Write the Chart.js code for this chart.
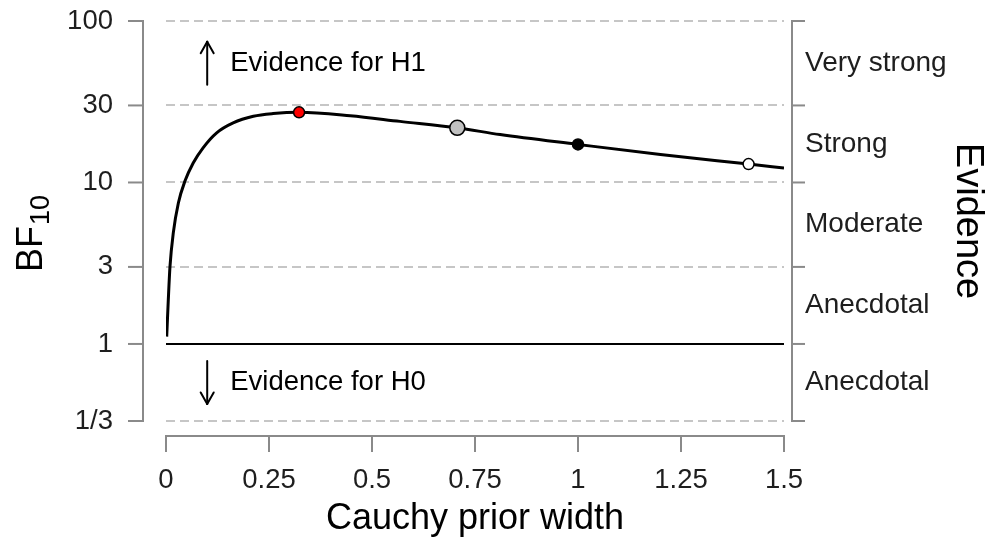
<!DOCTYPE html>
<html><head><meta charset="utf-8">
<script src="https://cdn.jsdelivr.net/npm/chart.js@4/dist/chart.umd.min.js"></script>
<style>html,body{margin:0;padding:0;background:#fff;}#wrap{width:992px;height:544px;}</style>
</head><body><div id="wrap"><canvas id="c" width="992" height="544"></canvas></div>
<script>
// ---- data ----
const priorWidth = [0.0017, 0.0056, 0.0097, 0.0177, 0.030, 0.046, 0.066, 0.090, 0.123, 0.163, 0.212, 0.260, 0.323, 0.447, 0.568, 0.707, 0.811, 1.0, 1.2, 1.414, 1.5];
const bf10 = [1.11, 1.88, 3.02, 4.87, 7.46, 10.2, 13.2, 16.4, 20.3, 23.4, 25.7, 26.7, 27.2, 25.9, 23.9, 21.8, 19.8, 17.2, 14.9, 13.0, 12.3];
const markerWidths = [0.323, 0.707, 1.0, 1.414];
const markerBF = [27.2, 21.8, 17.2, 13.0];
const markerFill = ['#ff0000', '#c0c0c0', '#000000', '#ffffff'];
const markerRadius = [5.5, 7.5, 5.5, 5.5];
const yTickValues = [1/3, 1, 3, 10, 30, 100];
const yTickLabels = ['1/3', '1', '3', '10', '30', '100'];
const xTickValues = [0, 0.25, 0.5, 0.75, 1, 1.25, 1.5];
const xTickLabels = ['0', '0.25', '0.5', '0.75', '1', '1.25', '1.5'];
const evidenceBounds = [100, 30, 10, 3, 1, 1/3];
const evidenceLabels = ['Very strong', 'Strong', 'Moderate', 'Anecdotal', 'Anecdotal'];
const annotationTexts = ['Evidence for H1', 'Evidence for H0'];
const annotationArrowX = 0.1;
const Y_MIN = 1/3, Y_MAX = 100;

const FONT = "'Liberation Sans', Arial, sans-serif";
const AXIS_COLOR = '#8a8a8a';
const GRID_COLOR = '#c6c6c6';
const TEXT_COLOR = '#1e1e1e';

const curveData = priorWidth.map((x, i) => ({x, y: bf10[i]}));
const markerData = markerWidths.map((x, i) => ({x, y: markerBF[i]}));
const evidenceMid = evidenceLabels.map((_, i) => Math.sqrt(evidenceBounds[i] * evidenceBounds[i + 1]));

const noPad = s => { s.paddingTop = 0; s.paddingBottom = 0; s.paddingLeft = 0; s.paddingRight = 0; };

const axesPlugin = {
  id: 'rAxes',
  afterDraw(chart) {
    const {ctx, chartArea: ca} = chart;
    const xs = chart.scales.x, ys = chart.scales.y;
    ctx.save();
    ctx.strokeStyle = AXIS_COLOR;
    ctx.lineWidth = 2;
    ctx.lineCap = 'butt';
    const seg = (x1, y1, x2, y2) => { ctx.beginPath(); ctx.moveTo(x1, y1); ctx.lineTo(x2, y2); ctx.stroke(); };
    const yTop = ys.getPixelForValue(Y_MAX), yBot = ys.getPixelForValue(Y_MIN);
    const axL = ca.left - 23;
    seg(axL, yTop - 1, axL, yBot + 1);
    yTickValues.forEach(v => { const p = ys.getPixelForValue(v); seg(axL - 15, p, axL, p); });
    const axR = ca.right + 8;
    seg(axR, yTop - 1, axR, yBot + 1);
    evidenceBounds.forEach(v => { const p = ys.getPixelForValue(v); seg(axR, p, axR + 13, p); });
    const axB = ca.bottom + 15;
    const x0 = xs.getPixelForValue(xTickValues[0]), x1 = xs.getPixelForValue(xTickValues[xTickValues.length - 1]);
    seg(x0 - 1, axB, x1 + 1, axB);
    xTickValues.forEach(v => { const p = xs.getPixelForValue(v); seg(p, axB, p, axB + 16); });

    // y title BF with subscript 10
    ctx.fillStyle = '#000';
    ctx.save();
    ctx.translate(42, 272);
    ctx.rotate(-Math.PI / 2);
    ctx.textAlign = 'left';
    ctx.textBaseline = 'alphabetic';
    ctx.font = '36px ' + FONT;
    ctx.fillText('BF', 0, 0);
    const w = ctx.measureText('BF').width;
    ctx.font = '27px ' + FONT;
    ctx.fillText('10', w + 1, 7);
    ctx.restore();

    // annotations
    const ax = xs.getPixelForValue(annotationArrowX);
    const yH1 = ys.getPixelForValue(Math.sqrt(evidenceBounds[0] * evidenceBounds[1]));
    const yH0 = ys.getPixelForValue(Math.sqrt(evidenceBounds[4] * evidenceBounds[5]));
    ctx.strokeStyle = '#000';
    ctx.lineWidth = 2;
    ctx.lineCap = 'round';
    seg(ax, yH1 + 21.5, ax, yH1 - 21.5);
    seg(ax, yH1 - 21.5, ax - 6.5, yH1 - 10);
    seg(ax, yH1 - 21.5, ax + 6.5, yH1 - 10);
    seg(ax, yH0 - 21.5, ax, yH0 + 21.5);
    seg(ax, yH0 + 21.5, ax - 6.5, yH0 + 10);
    seg(ax, yH0 + 21.5, ax + 6.5, yH0 + 10);
    ctx.fillStyle = '#000';
    ctx.font = '27.5px ' + FONT;
    ctx.textAlign = 'left';
    ctx.textBaseline = 'middle';
    ctx.fillText(annotationTexts[0], ax + 23, yH1);
    ctx.fillText(annotationTexts[1], ax + 23, yH0);
    ctx.restore();
  }
};

const fixY = s => { s.min = Y_MIN; s.max = Y_MAX; };

new Chart(document.getElementById('c'), {
  data: {
    datasets: [
      { type: 'scatter', data: markerData, order: 0,
        pointRadius: markerRadius, pointBackgroundColor: markerFill,
        pointBorderColor: '#000', pointBorderWidth: 1.5, pointHoverRadius: markerRadius },
      { type: 'line', data: curveData, order: 1,
        borderColor: '#000', borderWidth: 3, pointRadius: 0, fill: false,
        cubicInterpolationMode: 'monotone' },
      { type: 'line', data: [{x: 0, y: 1}, {x: 1.5, y: 1}], order: 2,
        borderColor: '#000', borderWidth: 2, pointRadius: 0, fill: false }
    ]
  },
  options: {
    responsive: false, animation: false, devicePixelRatio: 1,
    layout: {padding: {top: 21, left: 0, right: 0, bottom: 0}},
    plugins: {legend: {display: false}, tooltip: {enabled: false}},
    scales: {
      x: {
        type: 'linear', position: 'bottom', min: 0, max: 1.5,
        afterBuildTicks: s => { s.ticks = xTickValues.map(v => ({value: v})); s.min = 0; s.max = 1.5; },
        afterFit: s => { s.height = 123; noPad(s); },
        grid: {display: false, drawTicks: false},
        border: {display: false},
        ticks: {autoSkip: false, maxRotation: 0, padding: 43, color: TEXT_COLOR,
          font: {family: FONT, size: 27.5}, callback: (v, i) => xTickLabels[i]},
        title: {display: true, text: 'Cauchy prior width', color: '#000',
          font: {family: FONT, size: 36}, padding: {top: 0, bottom: 3}}
      },
      y: {
        type: 'logarithmic', position: 'left', min: Y_MIN, max: Y_MAX, bounds: 'data',
        afterBuildTicks: s => { s.ticks = yTickValues.map(v => ({value: v})); fixY(s); },
        afterFit: s => { s.width = 166; noPad(s); },
        grid: {drawTicks: false, lineWidth: 2,
          color: c => (c.tick && Math.abs(c.tick.value - 1) < 1e-9) ? 'rgba(0,0,0,0)' : GRID_COLOR},
        border: {display: false, dash: [9, 5]},
        ticks: {autoSkip: false, padding: 53, color: TEXT_COLOR,
          font: {family: FONT, size: 27.5}, callback: (v, i) => yTickLabels[i]}
      },
      y2: {
        type: 'logarithmic', position: 'right', min: Y_MIN, max: Y_MAX, bounds: 'data',
        afterBuildTicks: s => { s.ticks = evidenceMid.map(v => ({value: v})); fixY(s); },
        afterFit: s => { s.width = 208; noPad(s); },
        grid: {display: false, drawTicks: false},
        border: {display: false},
        ticks: {autoSkip: false, padding: 21, color: TEXT_COLOR,
          font: {family: FONT, size: 28}, callback: (v, i) => evidenceLabels[i]},
        title: {display: true, text: 'Evidence', color: '#000',
          font: {family: FONT, size: 38}, padding: {top: 2, bottom: 0}}
      }
    }
  },
  plugins: [axesPlugin]
});
</script></body></html>
